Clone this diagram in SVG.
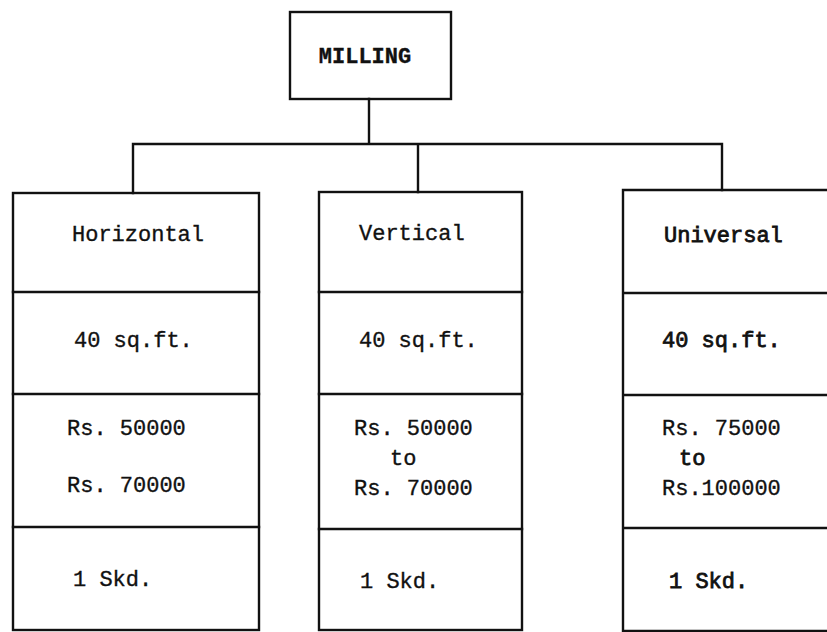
<svg xmlns="http://www.w3.org/2000/svg" width="827" height="632" viewBox="0 0 827 632">
  <style>
    .ln { stroke: #111; stroke-width: 2.4; fill: none; stroke-linecap: square; }
    .t { font-family: "Liberation Mono", "DejaVu Sans Mono", monospace; font-size: 22px; fill: #111; stroke: #111; stroke-width: 0.35; }
    .h { stroke-width: 0.8; }
  </style>
  <rect width="827" height="632" fill="#fff"/>

  <!-- connectors -->
  <g id="connectors">
    <path class="ln" d="M369 99 V144 M133 144 H722 M133 144 V193 M418 144 V192 M722 144 V190"/>
  </g>

  <!-- root node -->
  <g id="milling">
    <rect class="ln" x="290" y="12" width="161" height="87"/>
    <text class="t" x="365" y="63" text-anchor="middle" font-size="21" font-weight="bold">MILLING</text>
  </g>

  <!-- left column -->
  <g id="horizontal">
    <rect class="ln" x="13" y="193" width="246" height="437"/>
    <path class="ln" d="M13 292 H259 M13 394 H259 M13 527 H259"/>
    <text class="t" x="72" y="241">Horizontal</text>
    <text class="t" x="74" y="347">40 sq.ft.</text>
    <text class="t" x="67" y="435">Rs. 50000</text>
    <text class="t" x="67" y="492">Rs. 70000</text>
    <text class="t" x="73" y="586">1 Skd.</text>
  </g>

  <!-- middle column -->
  <g id="vertical">
    <rect class="ln" x="319" y="192" width="203" height="438"/>
    <path class="ln" d="M319 292 H522 M319 394 H522 M319 529 H522"/>
    <text class="t" x="359" y="240">Vertical</text>
    <text class="t" x="359" y="347">40 sq.ft.</text>
    <text class="t" x="354" y="435">Rs. 50000</text>
    <text class="t" x="390" y="465">to</text>
    <text class="t" x="354" y="495">Rs. 70000</text>
    <text class="t" x="360" y="588">1 Skd.</text>
  </g>

  <!-- right column (runs past the right edge) -->
  <g id="universal">
    <path class="ln" d="M827 190 H623 V631 H827 M623 293 H827 M623 395 H827 M623 528 H827"/>
    <text class="t h" x="664" y="242">Universal</text>
    <text class="t h" x="662" y="347">40 sq.ft.</text>
    <text class="t" x="662" y="435">Rs. 75000</text>
    <text class="t h" x="679" y="465">to</text>
    <text class="t" x="662" y="495">Rs.100000</text>
    <text class="t h" x="669" y="588">1 Skd.</text>
  </g>
</svg>
